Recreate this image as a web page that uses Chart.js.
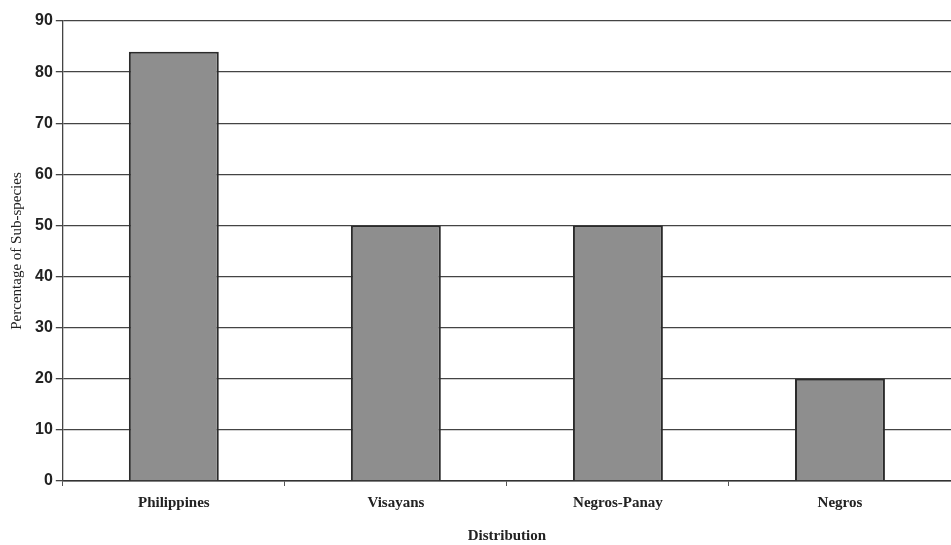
<!DOCTYPE html>
<html>
<head>
<meta charset="utf-8">
<script src="https://cdn.jsdelivr.net/npm/chart.js@4"></script>
<style>
  html, body { margin: 0; padding: 0; background: #fff; }
  #wrap { width: 951px; height: 545px; }
</style>
</head>
<body>
<div id="wrap"><canvas id="chart" width="951" height="545"></canvas></div>
<script>
// データ
const categories = ['Philippines', 'Visayans', 'Negros-Panay', 'Negros'];
const percentages = [84, 50, 50, 20];
const yTicks = [0, 10, 20, 30, 40, 50, 60, 70, 80, 90];

const ctx = document.getElementById('chart').getContext('2d');

new Chart(ctx, {
    type: 'bar',
    data: {
        labels: categories,
        datasets: [{
            data: percentages,
            backgroundColor: '#8e8e8e',
            borderColor: '#2b2b2b',
            borderWidth: 2,
            categoryPercentage: 1,
            barPercentage: 0.405
        }]
    },
    options: {
        responsive: false,
        animation: false,
        layout: { padding: { top: 21, right: 0, left: 8, bottom: 0 } },
        plugins: {
            legend: { display: false },
            tooltip: { enabled: false }
        },
        scales: {
            x: {
                grid: {
                    offset: true,
                    drawOnChartArea: false,
                    drawTicks: true,
                    tickLength: 5,
                    color: '#555'
                },
                border: { display: true, color: '#333', width: 1.5 },
                ticks: {
                    color: '#222',
                    font: { family: 'Liberation Serif', size: 15, weight: 'bold' },
                    padding: 8
                },
                title: {
                    display: true,
                    text: 'Distribution',
                    color: '#222',
                    font: { family: 'Liberation Serif', size: 15, weight: 'bold' },
                    padding: { top: 7, bottom: 0 }
                }
            },
            y: {
                min: 0,
                max: 90,
                afterBuildTicks: axis => {
                    axis.ticks = yTicks.map(v => ({ value: v }));
                },
                grid: {
                    color: '#444',
                    lineWidth: 1.3,
                    drawTicks: true,
                    tickLength: 7
                },
                border: { display: true, color: '#444', width: 1.3 },
                ticks: {
                    color: '#222',
                    font: { family: 'Liberation Sans', size: 16, weight: 'bold' },
                    padding: 3
                },
                title: {
                    display: true,
                    text: 'Percentage of Sub-species',
                    color: '#222',
                    font: { family: 'Liberation Serif', size: 15 },
                    padding: { top: 0, bottom: 6 }
                }
            }
        }
    }
});
</script>
</body>
</html>
